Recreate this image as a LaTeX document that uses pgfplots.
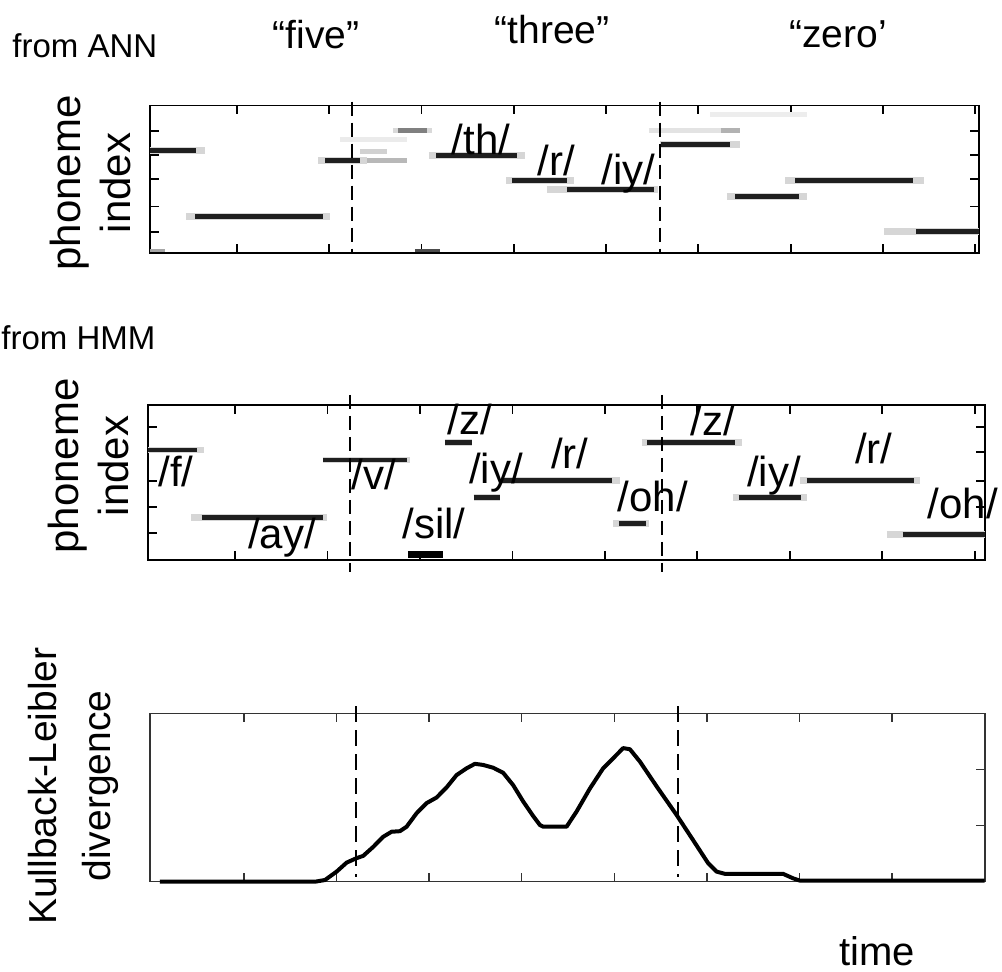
\documentclass[border=0pt]{standalone}
\usepackage{pgfplots}
\pgfplotsset{compat=1.18}
\usepackage{fontspec}
\setmainfont{Liberation Sans}

% one phoneme track: y, halo start, bar start, bar end, halo end
\newcommand{\phseg}[5]{%
  \addplot[black!16, line width=3.4pt, forget plot] coordinates {(#2,#1) (#5,#1)};
  \addplot[black!88, line width=2.4pt, forget plot] coordinates {(#3,#1) (#4,#1)};
}
% a lighter, partly active track: y, start, end, shade
\newcommand{\phfaint}[4]{%
  \addplot[black!#4, line width=2.4pt, forget plot] coordinates {(#2,#1) (#3,#1)};
}
\newcommand{\lab}[1]{\fontsize{21}{25}\selectfont #1}

\pgfplotsset{
  panel/.style={
    scale only axis, anchor=south west, clip=false,
    xmin=0, ymin=0,
    xticklabels={}, yticklabels={},
    tick align=inside, major tick length=4.5pt,
    axis line style={line width=0.9pt, black},
    tick style={line width=0.9pt, black},
  },
  boundary/.style={black, line width=1pt, dash pattern=on 7pt off 3.5pt},
}

\begin{document}
\begin{tikzpicture}
\useasboundingbox (0,0) rectangle (501pt,485.5pt);

% ---------- phoneme posteriors from the ANN ----------
\begin{axis}[panel, at={(75pt,359.15pt)}, width=414.5pt, height=73.6pt,
  xmax=89.8, ymax=6,
  xtick={9.4,19.4,29.4,39.4,49.4,59.4,69.4,79.4,89.4},
  ytick={0.86,1.88,3.0,3.99,4.97}]
  \phfaint{5.62}{60.7}{71.2}{7}
  \phfaint{4.98}{54.0}{63.9}{11}
  \phfaint{4.98}{61.8}{63.9}{30}
  \phfaint{4.60}{20.6}{27.8}{8}
  \phfaint{4.12}{22.8}{25.7}{18}
  \phfaint{3.76}{22.8}{27.8}{28}
  \phfaint{4.98}{26.3}{30.6}{15}
  \phfaint{4.98}{26.9}{30.0}{50}
  \phseg{4.15}{0}{0}{5.0}{6.0}
  \phseg{1.47}{3.9}{4.9}{18.7}{19.5}
  \phseg{3.76}{18.2}{19.0}{22.8}{23.5}
  \phseg{3.96}{30.2}{31.0}{39.8}{40.6}
  \phseg{2.94}{38.6}{39.2}{45.2}{45.9}
  \phseg{2.56}{43.0}{45.2}{54.6}{55.0}
  \phseg{4.40}{55.25}{55.4}{62.8}{63.9}
  \phseg{2.29}{62.5}{63.4}{70.3}{71.2}
  \phseg{2.94}{68.8}{69.9}{82.6}{83.8}
  \phseg{0.86}{79.5}{83.0}{89.8}{89.8}
  \addplot[black!70, line width=1.6pt, forget plot] coordinates {(28.7,0.08) (31.4,0.08)};
  \addplot[black!35, line width=1.6pt, forget plot] coordinates {(0,0.08) (1.6,0.08)};
  \addplot[boundary] coordinates {(21.85,6.16) (21.85,0)};
  \addplot[boundary] coordinates {(55.25,6.16) (55.25,0)};
  \node[anchor=base] at (35.86,3.99) {\lab{/th/}};
  \node[anchor=base] at (44.0,3.13) {\lab{/r/}};
  \node[anchor=base] at (51.8,2.76) {\lab{/iy/}};
\end{axis}

% ---------- phoneme alignment from the HMM ----------
\begin{axis}[panel, at={(74pt,205.5pt)}, width=418.5pt, height=77.5pt,
  xmax=90.5, ymax=6,
  xtick={9.4,19.4,29.4,39.4,49.4,59.4,69.4,79.4,89.4},
  ytick={1.03,2.06,3.06,4.19,5.14}]
  \phseg{4.26}{0}{0}{5.3}{6.1}
  \phseg{1.65}{4.7}{5.8}{18.9}{19.4}
  \phseg{3.87}{18.9}{18.9}{27.97}{28.3}
  \phseg{4.54}{32.1}{32.1}{35.0}{35.0}
  \phseg{2.43}{35.2}{35.2}{38.1}{38.1}
  \phseg{3.07}{38.2}{38.2}{50.2}{51.0}
  \phseg{1.42}{50.3}{50.9}{53.8}{54.2}
  \phseg{4.54}{53.4}{54.0}{63.5}{64.2}
  \phseg{2.43}{63.2}{63.9}{70.6}{71.2}
  \phseg{3.07}{70.5}{71.2}{82.8}{83.5}
  \phseg{1.00}{79.9}{81.6}{90.5}{90.5}
  \addplot[black, line width=3.6pt, forget plot] coordinates {(28.1,0.2) (31.9,0.2)};
  \addplot[boundary] coordinates {(21.8,6.39) (21.8,-0.45)};
  \addplot[boundary] coordinates {(55.6,6.39) (55.6,-0.45)};
  \node[anchor=base] at (3.03,2.86) {\lab{/f/}};
  \node[anchor=base] at (14.49,0.46) {\lab{/ay/}};
  \node[anchor=base] at (24.43,2.71) {\lab{/v/}};
  \node[anchor=base] at (30.92,0.84) {\lab{/sil/}};
  \node[anchor=base] at (34.81,4.84) {\lab{/z/}};
  \node[anchor=base] at (37.62,2.98) {\lab{/iy/}};
  \node[anchor=base] at (45.62,3.56) {\lab{/r/}};
  \node[anchor=base] at (54.6,1.87) {\lab{/oh/}};
  \node[anchor=base] at (61.08,4.81) {\lab{/z/}};
  \node[anchor=base] at (67.68,2.84) {\lab{/iy/}};
  \node[anchor=base] at (78.49,3.74) {\lab{/r/}};
  \node[anchor=base] at (88.1,1.61) {\lab{/oh/}};
\end{axis}

% ---------- Kullback-Leibler divergence between the two ----------
\begin{axis}[panel, at={(75pt,44.65pt)}, width=417.5pt, height=84.2pt,
  xmax=90.2, ymax=3,
  axis line style={line width=0.7pt, black!80},
  tick style={line width=0.7pt, black!80},
  xtick={10.15,20.15,30.15,40.15,50.15,60.15,70.15,80.15},
  ytick={1,2}, ytick pos=right]
  \addplot[black, line width=2pt, line join=round] coordinates {
    (1.08,0) (17.82,0) (18.90,0.03) (20.16,0.18) (21.24,0.34) (22.32,0.42)
    (23.03,0.46) (24.11,0.62) (25.19,0.80) (26.10,0.89) (27.00,0.90)
    (27.72,0.98) (28.80,1.22) (29.88,1.40) (30.96,1.50) (32.04,1.68)
    (33.12,1.90) (34.20,2.02) (35.10,2.10) (35.99,2.08) (37.08,2.03)
    (38.15,1.94) (39.23,1.72) (40.31,1.43) (41.39,1.17) (42.12,1.01)
    (42.47,0.98) (45.00,0.98) (46.08,1.25) (47.52,1.66) (48.95,2.02)
    (50.22,2.23) (51.11,2.38) (51.84,2.36) (52.92,2.14) (54.72,1.70)
    (56.88,1.19) (58.67,0.74) (60.29,0.33) (61.20,0.18) (62.10,0.14)
    (68.39,0.14) (69.47,0.06) (70.19,0.02) (90.17,0.02)
  };
  \addplot[black, line width=0.7pt, dash pattern=on 8pt off 4pt] coordinates {(22.25,3.13) (22.25,0.08)};
  \addplot[black, line width=0.7pt, dash pattern=on 8pt off 4pt] coordinates {(57.05,3.13) (57.05,0.08)};
\end{axis}

% ---------- titles and axis names ----------
\node[anchor=base west, inner sep=0pt] at (6pt,456.5pt) {\fontsize{16.5}{20}\selectfont from ANN};
\node[anchor=base] at (158pt,461pt) {\fontsize{19.5}{23}\selectfont “five”};
\node[anchor=base] at (276pt,463.5pt) {\fontsize{19.5}{23}\selectfont “three”};
\node[anchor=base] at (419pt,461.5pt) {\fontsize{19.5}{23}\selectfont “zero’};
\node[anchor=base west, inner sep=0pt] at (0.5pt,310.5pt) {\fontsize{16.5}{20}\selectfont from HMM};
\node[rotate=90, align=center, font={\fontsize{21}{25}\selectfont}] at (45pt,394pt) {phoneme\\index};
\node[rotate=90, align=center, font={\fontsize{21}{25}\selectfont}] at (44pt,252.5pt) {phoneme\\index};
\node[rotate=90, align=center, font={\fontsize{19.5}{27}\selectfont}] at (36.75pt,92.5pt) {Kullback-Leibler\\divergence};
\node[anchor=base] at (438.5pt,3pt) {\fontsize{20}{24}\selectfont time};
\end{tikzpicture}
\end{document}
